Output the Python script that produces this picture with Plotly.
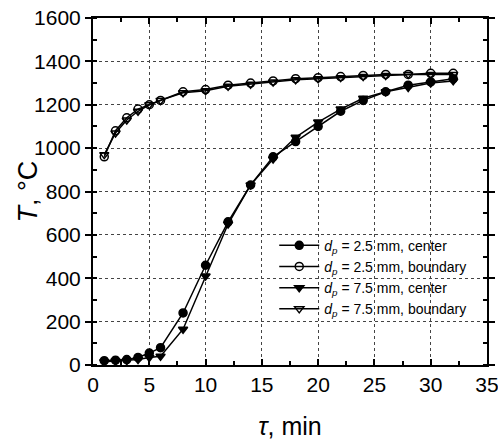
import plotly.graph_objects as go

tau = [1, 2, 3, 4, 5, 6, 8, 10, 12, 14, 16, 18, 20, 22, 24, 26, 28, 30, 32]
t_c25 = [20, 22, 25, 35, 55, 80, 240, 460, 660, 830, 960, 1030, 1100, 1170, 1220, 1260, 1290, 1305, 1320]
t_b25 = [960, 1080, 1140, 1180, 1200, 1220, 1260, 1270, 1290, 1300, 1310, 1320, 1325, 1330, 1335, 1340, 1340, 1345, 1345]
t_c75 = [15, 18, 20, 25, 35, 40, 165, 410, 650, 830, 950, 1050, 1120, 1180, 1230, 1260, 1280, 1300, 1310]
t_b75 = [970, 1070, 1130, 1170, 1200, 1220, 1255, 1265, 1285, 1295, 1305, 1315, 1320, 1325, 1330, 1335, 1340, 1340, 1340]

names = ["<i>d<sub>p</sub></i> = 2.5 mm, center",
         "<i>d<sub>p</sub></i> = 2.5 mm, boundary",
         "<i>d<sub>p</sub></i> = 7.5 mm, center",
         "<i>d<sub>p</sub></i> = 7.5 mm, boundary"]
series = [t_c25, t_b25, t_c75, t_b75]
symbols = ["circle", "circle-open", "triangle-down", "triangle-down-open"]

fig = go.Figure()
for n, s, sym in zip(names, series, symbols):
    fig.add_trace(go.Scatter(
        x=tau, y=s, name=n, mode="lines+markers",
        line=dict(color="black", width=1.5),
        marker=dict(symbol=sym, size=8, color="black",
                    line=dict(color="black", width=1.5)),
    ))

axis_common = dict(
    showline=True, linecolor="black", linewidth=2, mirror="ticks",
    showgrid=True, gridcolor="#444444", griddash="dot", gridwidth=1,
    tickwidth=1.5, tickcolor="black",
    tickfont=dict(family="Liberation Sans, Arial", size=21, color="black"),
    zeroline=False, automargin=False, ticklabeloverflow="allow",
)

fig.update_xaxes(
    range=[0, 35], dtick=5, tick0=0,
    ticks="inside", ticklen=6,
    minor=dict(ticks="inside", ticklen=4, tickcolor="black", dtick=2.5, showgrid=False),
    title=dict(text="<i>τ</i>, min", font=dict(family="Liberation Sans, Arial", size=25, color="black"), standoff=22),
    **axis_common,
)
fig.update_yaxes(
    range=[0, 1600], dtick=200, tick0=0,
    ticks="outside", ticklen=6,
    minor=dict(ticks="inside", ticklen=4, tickcolor="black", dtick=100, showgrid=False),
    **axis_common,
)

fig.add_annotation(
    text="<i>T</i>, °C", textangle=-90, showarrow=False,
    xref="paper", yref="paper", x=-0.165, y=0.5, xanchor="center", yanchor="middle",
    font=dict(family="Liberation Sans, Arial", size=27, color="black"),
)

fig.update_layout(
    width=498, height=442,
    margin=dict(l=93, r=11, t=18, b=77),
    plot_bgcolor="white", paper_bgcolor="white",
    font=dict(family="Liberation Sans, Arial", color="black"),
    legend=dict(x=0.46, y=0.39, xanchor="left", yanchor="top",
                bgcolor="rgba(0,0,0,0)", font=dict(size=14),
                tracegroupgap=0, itemwidth=40),
    showlegend=True,
)

fig.write_html("out.html", config={"displayModeBar": False},
               post_script="document.body.style.margin='0';document.body.style.overflow='hidden';")
